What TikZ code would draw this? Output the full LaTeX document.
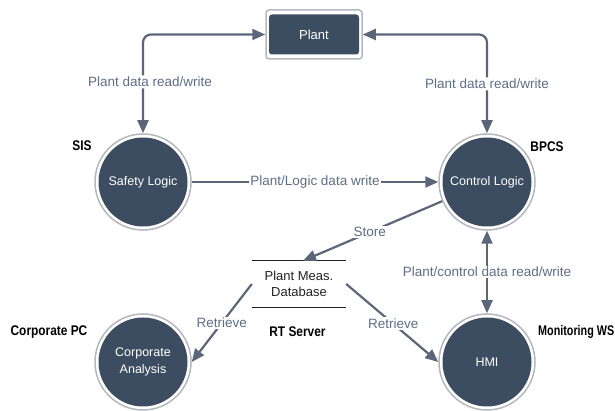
\documentclass[tikz,border=0pt]{standalone}
\usepackage{fontspec}
\setmainfont{Liberation Sans}
\newfontfamily\bcond[FakeStretch=0.85]{Liberation Sans}
\newfontfamily\bcondx[FakeStretch=0.77]{Liberation Sans}
\usetikzlibrary{arrows.meta}
\definecolor{nodefill}{HTML}{3C4D61}
\definecolor{arrowc}{HTML}{5C6679}
\definecolor{labelc}{HTML}{5D6E85}
\definecolor{ringc}{HTML}{B4B8BE}
\definecolor{dbtext}{HTML}{222222}
\begin{document}
\begin{tikzpicture}[x=1pt,y=1pt,
  proc/.style={circle, minimum size=96pt, inner sep=0pt, fill=white, draw=ringc, line width=1.5pt,
    path picture={\fill[nodefill] (path picture bounding box.center) circle (44.5pt);},
    text=white, align=center, font=\fontsize{12.5}{17}\selectfont},
  plantbox/.style={rectangle, minimum width=96pt, minimum height=49pt, rounded corners=3pt,
    fill=white, draw=ringc, line width=1.5pt,
    path picture={\fill[nodefill] ([shift={(-45pt,-20pt)}]path picture bounding box.center) rectangle +(90pt,40pt);},
    text=white, font=\fontsize{13}{15}\selectfont},
  dbnode/.style={rectangle, minimum width=94pt, minimum height=46pt, inner sep=0pt, align=center,
    text=dbtext, font=\fontsize{13}{16}\selectfont},
  dbline/.style={draw=dbtext, line width=1pt},
  flow/.style={draw=arrowc, line width=2.2pt, -{Triangle[length=13pt,width=11pt]}},
  flowtwo/.style={draw=arrowc, line width=2.2pt, {Triangle[length=13pt,width=11pt]}-{Triangle[length=13pt,width=11pt]}},
  elabel/.style={fill=white, text=labelc, inner sep=1.5pt, font=\fontsize{13.5}{15}\selectfont},
  tag/.style={text=black, inner sep=0pt, font=\bcond\bfseries\fontsize{14}{16}\selectfont}
]
\useasboundingbox (0,0) rectangle (615,411);

\node[plantbox] (plant) at (314,376.5) {Plant};
\node[proc] (safety) at (143,229) {Safety Logic};
\node[proc] (ctrl) at (487,229) {Control Logic};
\node[proc] (corp) at (143,49) {Corporate\\Analysis};
\node[proc] (hmi) at (487,49) {HMI};
\node[dbnode] (db) at (299,127) {Plant Meas.\\Database};
\draw[dbline] (db.north west) -- (db.north east);
\draw[dbline] (db.south west) -- (db.south east);

\node[tag] (sis) at (82,265) {SIS};
\node[tag] (bpcs) at (547,264) {BPCS};
\node[tag] (cpc) at (49,79) {Corporate PC};
\node[tag] (rts) at (297.5,79) {RT Server};
\node[tag, anchor=west, font=\bcondx\bfseries\fontsize{14}{16}\selectfont] (mws) at (538,79) {Monitoring WS};

\draw[flowtwo, rounded corners=8pt] (safety.north) |- node[elabel, pos=0.26, xshift=7pt] {Plant data read/write} (plant.west);
\draw[flowtwo, rounded corners=8pt] (ctrl.north) |- node[elabel, pos=0.25] {Plant data read/write} (plant.east);
\draw[flow] (safety) -- node[elabel] {Plant/Logic data write} (ctrl);
\draw[flow] (ctrl) -- node[elabel, pos=0.52] {Store} ([xshift=4pt]db.north);
\draw[flowtwo] (ctrl) -- node[elabel] {Plant/control data read/write} (hmi);
\draw[flow] (db.west) -- node[elabel, pos=0.5] {Retrieve} (corp.east);
\draw[flow] (db.east) -- node[elabel, pos=0.51] {Retrieve} (hmi.west);
\end{tikzpicture}
\end{document}
